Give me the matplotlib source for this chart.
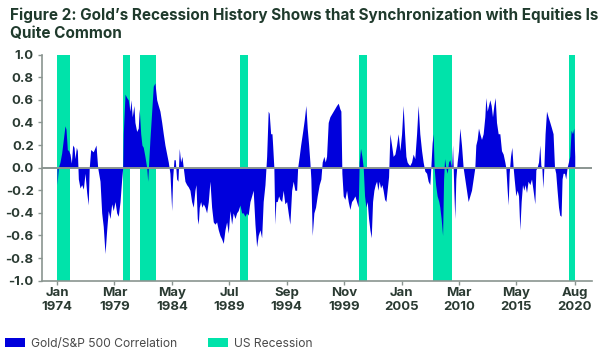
import matplotlib
matplotlib.use("Agg")
import matplotlib.pyplot as plt
from matplotlib.patches import Patch

# Gold / S&P 500 rolling correlation (decimal year, value)
dates = [
    1974.00, 1974.12, 1974.27, 1974.42, 1974.57, 1974.72, 1974.81, 1974.93, 1975.05, 1975.17,
    1975.29, 1975.41, 1975.53, 1975.62, 1975.74, 1975.83, 1975.92, 1976.07, 1976.22, 1976.37,
    1976.52, 1976.67, 1976.81, 1976.90, 1977.03, 1977.26, 1977.51, 1977.66, 1977.87, 1978.02,
    1978.16, 1978.32, 1978.47, 1978.61, 1978.77, 1978.92, 1979.06, 1979.22, 1979.37, 1979.51,
    1979.67, 1979.82, 1979.91, 1979.96, 1980.12, 1980.27, 1980.41, 1980.56, 1980.65, 1980.77,
    1980.92, 1981.01, 1981.17, 1981.31, 1981.40, 1981.53, 1981.64, 1981.76, 1981.91, 1982.07,
    1982.16, 1982.25, 1982.36, 1982.52, 1982.66, 1982.81, 1982.97, 1983.11, 1983.26, 1983.42,
    1983.56, 1983.71, 1983.87, 1984.01, 1984.16, 1984.32, 1984.40, 1984.52, 1984.64, 1984.76,
    1984.88, 1985.00, 1985.12, 1985.24, 1985.36, 1985.51, 1985.66, 1985.81, 1985.96, 1986.11,
    1986.26, 1986.41, 1986.50, 1986.62, 1986.71, 1986.80, 1986.92, 1987.04, 1987.16, 1987.31,
    1987.46, 1987.61, 1987.76, 1987.91, 1988.06, 1988.21, 1988.36, 1988.51, 1988.66, 1988.81,
    1988.96, 1989.11, 1989.26, 1989.41, 1989.56, 1989.71, 1989.85, 1990.01, 1990.16, 1990.30,
    1990.46, 1990.61, 1990.75, 1990.91, 1991.06, 1991.20, 1991.36, 1991.51, 1991.65, 1991.81,
    1991.96, 1992.10, 1992.26, 1992.41, 1992.55, 1992.71, 1992.86, 1993.00, 1993.09, 1993.22,
    1993.34, 1993.40, 1993.51, 1993.60, 1993.69, 1993.81, 1993.94, 1994.05, 1994.21, 1994.35,
    1994.50, 1994.66, 1994.80, 1994.95, 1995.11, 1995.25, 1995.40, 1995.56, 1995.65, 1995.79,
    1995.92, 1996.10, 1996.24, 1996.39, 1996.51, 1996.64, 1996.75, 1996.84, 1996.96, 1997.11,
    1997.26, 1997.41, 1997.59, 1997.74, 1997.86, 1998.01, 1998.13, 1998.25, 1998.40, 1998.55,
    1998.85, 1999.15, 1999.30, 1999.45, 1999.54, 1999.63, 1999.75, 1999.90, 2000.05, 2000.20,
    2000.35, 2000.50, 2000.65, 2000.80, 2000.95, 2001.10, 2001.19, 2001.31, 2001.43, 2001.55,
    2001.67, 2001.79, 2001.91, 2002.03, 2002.15, 2002.27, 2002.39, 2002.51, 2002.63, 2002.75,
    2002.87, 2002.98, 2003.11, 2003.23, 2003.34, 2003.47, 2003.59, 2003.70, 2003.83, 2003.95,
    2004.10, 2004.24, 2004.40, 2004.55, 2004.69, 2004.85, 2005.00, 2005.14, 2005.27, 2005.39,
    2005.50, 2005.63, 2005.74, 2005.90, 2006.04, 2006.19, 2006.35, 2006.49, 2006.64, 2006.80,
    2006.94, 2007.09, 2007.25, 2007.39, 2007.54, 2007.63, 2007.75, 2007.84, 2007.93, 2008.06,
    2008.20, 2008.35, 2008.44, 2008.56, 2008.69, 2008.78, 2008.87, 2008.98, 2009.10, 2009.23,
    2009.34, 2009.50, 2009.59, 2009.70, 2009.79, 2009.88, 2010.00, 2010.12, 2010.24, 2010.39,
    2010.54, 2010.69, 2010.84, 2010.99, 2011.14, 2011.29, 2011.44, 2011.59, 2011.68, 2011.80,
    2011.92, 2012.04, 2012.19, 2012.34, 2012.49, 2012.58, 2012.70, 2012.82, 2012.94, 2013.06,
    2013.18, 2013.30, 2013.42, 2013.54, 2013.69, 2013.84, 2013.99, 2014.14, 2014.29, 2014.38,
    2014.50, 2014.59, 2014.68, 2014.80, 2014.92, 2015.04, 2015.13, 2015.28, 2015.40, 2015.52,
    2015.64, 2015.76, 2015.88, 2016.00, 2016.11, 2016.24, 2016.38, 2016.54, 2016.69, 2016.83,
    2016.99, 2017.08, 2017.19, 2017.32, 2017.44, 2017.53, 2017.62, 2017.71, 2017.80, 2017.91,
    2018.04, 2018.18, 2018.34, 2018.49, 2018.63, 2018.76, 2018.87, 2018.99, 2019.12, 2019.23,
    2019.35, 2019.44, 2019.53, 2019.66, 2019.77, 2019.89, 2020.01, 2020.13, 2020.25, 2020.38,
    2020.49, 2020.58,
]
correlation = [
    -0.15, 0.00, 0.05, 0.13, 0.25, 0.37, 0.34, 0.16, 0.15, 0.12,
    0.04, 0.20, 0.18, 0.08, 0.18, 0.15, -0.10, -0.18, -0.15, -0.19,
    -0.05, -0.22, -0.33, 0.00, 0.16, 0.14, 0.20, 0.00, -0.12, -0.40,
    -0.52, -0.76, -0.55, -0.38, -0.45, -0.32, -0.38, -0.30, -0.40, -0.43,
    -0.30, -0.10, 0.00, 0.30, 0.65, 0.62, 0.60, 0.50, 0.60, 0.45,
    0.55, 0.40, 0.32, 0.35, 0.52, 0.30, 0.20, 0.18, 0.10, 0.00,
    -0.12, 0.05, 0.25, 0.50, 0.72, 0.75, 0.60, 0.55, 0.50, 0.40,
    0.30, 0.20, 0.12, 0.05, -0.05, -0.38, -0.10, 0.07, 0.07, -0.10,
    -0.12, 0.17, 0.05, 0.10, 0.00, -0.12, -0.15, -0.17, -0.20, -0.30,
    -0.35, -0.20, -0.15, -0.45, -0.50, -0.35, -0.30, -0.35, -0.32, -0.35,
    -0.40, -0.30, -0.12, -0.35, -0.48, -0.50, -0.48, -0.55, -0.60, -0.63,
    -0.67, -0.55, -0.48, -0.58, -0.38, -0.50, -0.40, -0.45, -0.40, -0.38,
    -0.33, -0.40, -0.40, -0.43, -0.40, -0.42, -0.30, -0.25, -0.20, -0.50,
    -0.70, -0.60, -0.55, -0.62, -0.30, -0.15, 0.10, 0.50, 0.48, 0.30,
    0.30, 0.20, 0.00, -0.50, -0.30, -0.30, -0.25, -0.28, -0.30, -0.20,
    -0.32, -0.30, -0.40, -0.50, -0.20, -0.12, -0.20, -0.20, 0.00, 0.10,
    0.20, 0.32, 0.42, 0.55, 0.35, 0.20, 0.05, -0.10, -0.60, -0.40,
    -0.35, -0.25, -0.15, -0.10, 0.05, 0.10, 0.05, 0.10, 0.40, 0.45,
    0.50, 0.55, 0.57, 0.52, 0.50, -0.05, -0.25, -0.28, -0.20, -0.30,
    -0.37, -0.30, -0.28, -0.25, -0.30, -0.35, 0.05, 0.17, 0.10, 0.00,
    -0.25, -0.35, -0.30, -0.45, -0.55, -0.62, -0.30, -0.20, -0.15, -0.12,
    -0.20, -0.12, -0.18, -0.15, -0.20, -0.28, -0.30, -0.20, -0.08, 0.30,
    0.20, 0.10, 0.12, 0.20, 0.30, 0.15, 0.30, 0.55, 0.30, 0.10,
    0.05, 0.03, 0.02, 0.05, 0.12, 0.08, 0.30, 0.55, 0.30, 0.15,
    0.05, -0.03, -0.05, -0.12, -0.15, 0.00, 0.22, 0.30, 0.00, -0.15,
    -0.25, -0.30, -0.35, -0.45, -0.60, -0.10, 0.08, 0.00, -0.05, 0.05,
    0.07, 0.00, 0.20, -0.20, -0.45, -0.10, 0.05, 0.15, 0.35, 0.20,
    0.00, -0.10, -0.20, -0.30, -0.25, -0.20, -0.10, 0.00, 0.20, 0.25,
    0.35, 0.30, 0.25, 0.30, 0.45, 0.62, 0.50, 0.55, 0.60, 0.55,
    0.45, 0.55, 0.62, 0.40, 0.30, 0.30, 0.15, 0.12, 0.05, 0.00,
    -0.20, -0.33, -0.05, 0.10, 0.18, 0.00, -0.10, -0.25, -0.20, -0.25,
    -0.55, -0.30, -0.15, -0.20, -0.15, -0.22, -0.12, -0.15, -0.10, -0.20,
    -0.32, -0.02, 0.00, 0.05, 0.20, 0.02, 0.00, -0.18, 0.00, 0.30,
    0.50, 0.45, 0.40, 0.35, 0.30, 0.00, -0.05, -0.20, -0.35, -0.42,
    -0.43, -0.10, -0.05, -0.05, -0.10, 0.00, 0.05, 0.10, 0.33, 0.30,
    0.35, 0.10,
]

# US recessions (start, end) in decimal years
rec_start = [1974.00, 1979.94, 1981.44, 1990.46, 2001.15, 2007.87, 2020.03]
rec_end = [1975.20, 1980.54, 1982.90, 1991.20, 2001.90, 2009.50, 2020.60]

tick_pos = [1974.0, 1979.17, 1984.33, 1989.5, 1994.67, 1999.83, 2005.0, 2010.17, 2015.33, 2020.58]
tick_labels = ["Jan\n1974", "Mar\n1979", "May\n1984", "Jul\n1989", "Sep\n1994",
               "Nov\n1999", "Jan\n2005", "Mar\n2010", "May\n2015", "Aug\n2020"]

blue = "#0000DC"
green = "#00E3AA"
text_col = "#2A3A32"
axis_col = "#8A9590"

plt.rcParams["font.family"] = ["Inter", "DejaVu Sans"]

fig = plt.figure(figsize=(6, 3.5), dpi=100)
ax = fig.add_axes([0.07, 0.198, 0.917, 0.646])

# Recession bars behind everything
for s, e in zip(rec_start, rec_end):
    ax.axvspan(s, e, color=green, lw=0, zorder=1)

# Correlation area
ax.fill_between(dates, 0, correlation, color=blue, lw=0, zorder=2)

# Zero line
ax.axhline(0, color=axis_col, lw=1.4, zorder=3)

ax.set_xlim(1972.65, 2022.15)
ax.set_ylim(-1, 1)
ax.set_yticks([-1.0, -0.8, -0.6, -0.4, -0.2, 0.0, 0.2, 0.4, 0.6, 0.8, 1.0])
ax.set_yticklabels([f"{v:.1f}" for v in ax.get_yticks()])
ax.set_xticks(tick_pos)
ax.set_xticklabels(tick_labels, linespacing=1.25)

for lab in ax.get_xticklabels() + ax.get_yticklabels():
    lab.set_fontweight("bold")
    lab.set_color(text_col)
    lab.set_fontsize(9.5)

ax.tick_params(axis="both", colors=axis_col, length=3, width=1, labelcolor=text_col)
ax.tick_params(axis="y", pad=3)
ax.tick_params(axis="x", pad=1.5)

for side in ["top", "right"]:
    ax.spines[side].set_visible(False)
for side in ["left", "bottom"]:
    ax.spines[side].set_color(axis_col)
    ax.spines[side].set_linewidth(1.2)

# Title
fig.text(0.017, 0.978, "Figure 2: Gold\u2019s Recession History Shows that Synchronization with Equities Is\nQuite Common",
         ha="left", va="top", fontsize=11, fontweight="bold", color="#1F3A2C", linespacing=1.25)

# Legend
handles = [Patch(facecolor=blue, edgecolor="none", label="Gold/S&P 500 Correlation"),
           Patch(facecolor=green, edgecolor="none", label="US Recession")]
fig.legend(handles=handles, loc="lower left", bbox_to_anchor=(-0.01, -0.03), ncol=2,
           frameon=False, fontsize=8.7, handlelength=1.65, handleheight=0.83,
           columnspacing=2.5, handletextpad=0.55, labelcolor="#4A4A4A")

plt.savefig("out.png", dpi=100)
